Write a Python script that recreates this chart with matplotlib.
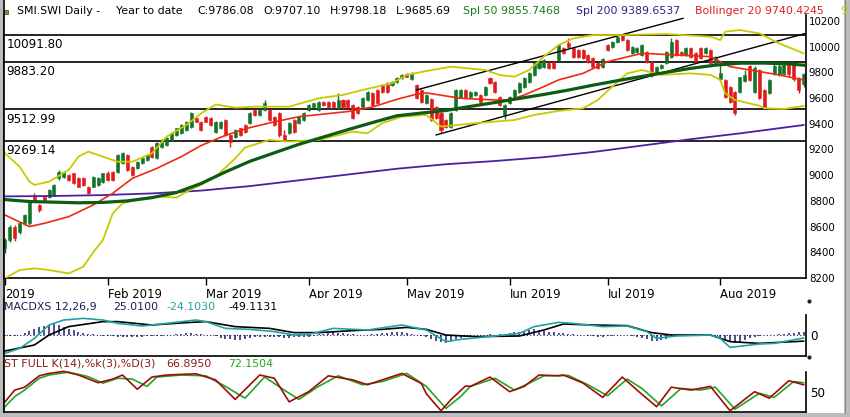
import numpy as np
import matplotlib
matplotlib.use("Agg")
import matplotlib.pyplot as plt
import matplotlib.transforms as mtransforms
from matplotlib.patches import Rectangle
from matplotlib.lines import Line2D

# ---- daily candles, 3 Jan .. 27 Aug 2019 ----
opens = [
    8431, 8496, 8600, 8560, 8625, 8625, 8833, 8768, 8833, 8833,
    8846, 8975, 8988, 9001, 9014, 8975, 8975, 8911, 8911, 8924,
    8950, 9014, 9027, 9027, 9092, 9157, 9066, 9053, 9092, 9118,
    9222, 9131, 9222, 9235, 9274, 9313, 9326, 9351, 9377, 9442,
    9416, 9455, 9442, 9338, 9364, 9429, 9313, 9300, 9364, 9390,
    9403, 9507, 9468, 9507, 9507, 9455, 9481, 9313, 9326, 9429,
    9403, 9429, 9507, 9533, 9507, 9572, 9567, 9567, 9520, 9585,
    9585, 9546, 9533, 9533, 9585, 9637, 9663, 9702, 9715, 9702,
    9728, 9754, 9787, 9745, 9700, 9660, 9560, 9590, 9533, 9481,
    9429, 9377, 9507, 9611, 9663, 9611, 9620, 9624, 9624, 9753,
    9727, 9611, 9468, 9559, 9598, 9650, 9688, 9727, 9779, 9831,
    9844, 9870, 9883, 9896, 9987, 10030, 9987, 9974, 9974, 9935,
    9909, 9870, 9844, 10012, 10000, 10038, 10090, 10051, 9948, 9961,
    9935, 9961, 9883, 9792, 9831, 9870, 9922, 10051, 9961, 9935,
    9987, 9948, 9987, 9948, 9974, 9870, 9745, 9740, 9688, 9650,
    9650, 9735, 9850, 9650, 9818, 9663, 9637, 9790, 9780, 9790,
    9857, 9870, 9753, 9707.10]
highs = [
    8509, 8612, 8612, 8635, 8700, 8807, 8859, 8775, 8840, 8890,
    8930, 9040, 9035, 9010, 9020, 8985, 8985, 8915, 8995, 8985,
    9020, 9030, 9035, 9165, 9180, 9165, 9070, 9110, 9140, 9165,
    9230, 9255, 9280, 9295, 9335, 9370, 9398, 9425, 9490, 9450,
    9425, 9462, 9450, 9422, 9422, 9435, 9320, 9358, 9370, 9398,
    9488, 9515, 9515, 9585, 9515, 9462, 9490, 9352, 9410, 9435,
    9462, 9488, 9552, 9565, 9578, 9580, 9575, 9575, 9637, 9592,
    9592, 9552, 9540, 9605, 9657, 9645, 9670, 9710, 9722, 9735,
    9760, 9787, 9795, 9800, 9708, 9668, 9628, 9598, 9540, 9488,
    9436, 9488, 9670, 9670, 9670, 9657, 9657, 9632, 9695, 9760,
    9734, 9618, 9553, 9618, 9670, 9721, 9760, 9799, 9877, 9882,
    9903, 9877, 9890, 10019, 9994, 10064, 9994, 9981, 9981, 9942,
    9916, 9877, 9908, 10019, 10045, 10084, 10100, 10058, 10007, 9994,
    10019, 9968, 9890, 9847, 9864, 9968, 10064, 10058, 9968, 9994,
    9994, 9955, 9994, 9994, 9981, 9929, 9870, 9747, 9695, 9657,
    9767, 9818, 9860, 9850, 9825, 9670, 9748, 9862, 9864, 9870,
    9864, 9883, 9760, 9798.18]
lows = [
    8392, 8480, 8490, 8545, 8610, 8615, 8800, 8715, 8800, 8825,
    8840, 8965, 8980, 8955, 8930, 8905, 8915, 8850, 8905, 8915,
    8940, 8955, 8955, 9020, 9085, 9030, 8990, 9045, 9085, 9110,
    9135, 9125, 9215, 9230, 9268, 9305, 9320, 9345, 9370, 9410,
    9345, 9410, 9385, 9330, 9358, 9305, 9222, 9292, 9305, 9330,
    9395, 9460, 9460, 9500, 9422, 9382, 9300, 9262, 9318, 9330,
    9395, 9422, 9500, 9525, 9500, 9538, 9520, 9525, 9512, 9525,
    9525, 9435, 9475, 9525, 9578, 9538, 9552, 9642, 9642, 9695,
    9720, 9746, 9760, 9738, 9590, 9562, 9552, 9422, 9435, 9325,
    9370, 9370, 9500, 9604, 9604, 9604, 9612, 9565, 9617, 9707,
    9643, 9539, 9440, 9552, 9591, 9643, 9681, 9720, 9772, 9824,
    9837, 9824, 9824, 9889, 9941, 9993, 9915, 9915, 9902, 9876,
    9837, 9824, 9837, 9967, 9993, 10031, 10044, 9967, 9941, 9954,
    9928, 9876, 9766, 9785, 9824, 9863, 9915, 9928, 9928, 9928,
    9915, 9876, 9902, 9941, 9863, 9863, 9735, 9604, 9565, 9467,
    9643, 9728, 9733, 9640, 9591, 9520, 9630, 9783, 9773, 9783,
    9773, 9733, 9640, 9685.69]
closes = [
    8496, 8595, 8510, 8625, 8690, 8794, 8807, 8729, 8807, 8885,
    8924, 9027, 9027, 8962, 8937, 8911, 8924, 8859, 8988, 8975,
    9014, 8962, 8962, 9157, 9170, 9040, 9001, 9105, 9131, 9157,
    9144, 9248, 9274, 9287, 9326, 9364, 9390, 9416, 9481, 9416,
    9351, 9416, 9390, 9416, 9416, 9313, 9261, 9352, 9313, 9338,
    9481, 9468, 9507, 9558, 9430, 9390, 9313, 9274, 9403, 9338,
    9455, 9481, 9546, 9559, 9572, 9546, 9528, 9533, 9585, 9533,
    9533, 9443, 9481, 9598, 9650, 9546, 9559, 9650, 9650, 9728,
    9754, 9780, 9767, 9790, 9600, 9570, 9620, 9430, 9442, 9351,
    9377, 9481, 9663, 9663, 9611, 9650, 9650, 9572, 9688, 9714,
    9650, 9546, 9546, 9611, 9663, 9714, 9753, 9792, 9870, 9875,
    9896, 9831, 9831, 10012, 9948, 10000, 9922, 9922, 9909, 9883,
    9844, 9831, 9901, 9974, 10038, 10077, 10051, 9974, 10000, 9987,
    10012, 9883, 9779, 9840, 9857, 9961, 10038, 9935, 9935, 9987,
    9922, 9883, 9909, 9987, 9870, 9922, 9795, 9611, 9572, 9481,
    9760, 9780, 9740, 9830, 9600, 9530, 9741, 9850, 9850, 9857,
    9785, 9745, 9663, 9786.08]

month_pos = [0, 21, 41, 62, 82, 103, 123, 146]
month_labels = ['2019', 'Feb 2019', 'Mar 2019', 'Apr 2019', 'May 2019',
                'Jun 2019', 'Jul 2019', 'Aug 2019']

# ---- overlays (values read at sample days) ----
sma200_days = [0, 10, 20, 30, 40, 50, 60, 70, 80, 90, 100, 110, 120, 130, 140, 150, 163]
sma200_vals = [8835, 8838, 8845, 8858, 8880, 8915, 8960, 9005, 9050, 9085, 9110,
               9140, 9180, 9230, 9280, 9325, 9390]

sma50_days = [0, 5, 10, 15, 20, 25, 30, 35, 40, 45, 50, 55, 60, 65, 70, 75, 80, 85,
              90, 95, 100, 105, 110, 115, 120, 125, 130, 135, 140, 145, 150, 155, 160, 163]
sma50_vals = [8810, 8795, 8790, 8785, 8788, 8800, 8825, 8865, 8935, 9025, 9108, 9174,
              9240, 9297, 9354, 9409, 9462, 9483, 9503, 9535, 9565, 9597, 9628, 9662,
              9700, 9735, 9768, 9800, 9831, 9856, 9871, 9872, 9865, 9856]

boll_mid_days = [0, 5, 8, 13, 18, 22, 26, 31, 36, 40, 45, 50, 55, 60, 65, 70, 75, 80,
                 84, 86, 93, 100, 103, 106, 110, 113, 118, 123, 130, 137, 144, 148,
                 154, 158, 163]
boll_mid_vals = [8690, 8600, 8625, 8677, 8768, 8859, 8975, 9053, 9144, 9230, 9310,
                 9370, 9415, 9455, 9475, 9495, 9530, 9590, 9630, 9640, 9598, 9585,
                 9585, 9624, 9689, 9741, 9792, 9883, 9948, 9935, 9922, 9844, 9806,
                 9780, 9740]

boll_up_days = [0, 3, 5, 6, 9, 13, 15, 17, 20, 23, 26, 30, 33, 37, 40, 43, 47, 51, 58,
                64, 69, 73, 79, 82, 86, 91, 98, 101, 104, 107, 110, 113, 116, 120, 126,
                135, 144, 146, 147, 150, 154, 158, 163]
boll_up_vals = [9170, 9066, 8950, 8924, 8950, 9040, 9144, 9183, 9144, 9105, 9105, 9170,
                9300, 9390, 9480, 9550, 9525, 9533, 9533, 9598, 9624, 9663, 9715, 9780,
                9810, 9844, 9818, 9779, 9766, 9818, 9922, 10012, 10064, 10090, 10090,
                10098, 10077, 10051, 10116, 10129, 10103, 10025, 9948]

boll_lo_days = [0, 3, 6, 9, 13, 16, 18, 20, 22, 24, 28, 32, 35, 37, 40, 43, 47, 49, 54,
                58, 64, 71, 74, 77, 81, 86, 89, 96, 101, 104, 108, 113, 118, 121, 124,
                127, 130, 134, 140, 144, 146, 147, 149, 154, 155, 159, 163]
boll_lo_vals = [8198, 8262, 8275, 8262, 8236, 8288, 8400, 8496, 8703, 8781, 8820, 8833,
                8825, 8870, 8924, 8988, 9130, 9215, 9274, 9261, 9274, 9339, 9326, 9404,
                9455, 9468, 9378, 9404, 9420, 9429, 9468, 9500, 9520, 9585, 9690, 9792,
                9818, 9780, 9792, 9780, 9741, 9637, 9585, 9540, 9520, 9515, 9538]

levels = [10091.80, 9883.20, 9512.99, 9269.14]
chan_upper = ([84, 138.4], [9663, 10220])
chan_lower = ([88, 163.5], [9313, 10104])

# ---- MACD panel ----
macd_days = [0, 3, 6, 9, 12, 16, 20, 23, 28, 33, 39, 41, 45, 50, 55, 59, 62, 67, 74, 81,
             86, 90, 93, 100, 105, 108, 113, 116, 122, 127, 131, 133, 137, 144, 146,
             148, 154, 157, 163]
macd_vals = [-147, -107, -27, 80, 120, 133, 120, 93, 72, 93, 120, 107, 53, 45, 27, 0, 5,
             53, 40, 80, 40, -53, -35, -8, 13, 67, 101, 93, 67, 72, 27, -27, -8, 0, -27,
             -99, -72, -67, -24]
signal_days = [0, 6, 9, 13, 20, 23, 30, 37, 41, 47, 54, 59, 64, 71, 77, 82, 86, 90, 96,
               105, 110, 114, 120, 127, 132, 136, 144, 148, 154, 163]
signal_vals = [-128, -80, 0, 67, 107, 107, 80, 99, 107, 67, 53, 19, 19, 35, 45, 61, 45,
               0, -13, -8, 40, 88, 80, 75, 19, 0, 0, -53, -67, -49]
hist_vals = [
    -10, -8, -4, 0,
    16, 32, 48, 64, 72, 80, 85, 80, 64, 48, 40, 24, 16, 8, 8, 0,
    -5, -8, -10, -12, -14, -14, -13, -12, -12, -10, -8,
    -6, -4, -2, 2, 6, 10, 14, 16, 12, 6, 2, 0,
    -10, -20, -28, -35, -40, -38, -32, -25, -18, -15,
    -16, -18, -18, -19, -20, -20, -19, -18, -16, -12,
    -5, 5, 12, 18, 23, 20, 15, 10, 6, 2,
    0, 2, 6, 10, 15, 20, 24, 25, 22, 15,
    8, 2, -5, -15, -30, -45, -55, -60, -50, -35,
    -25, -15, -8, -3, 2, 4, 5, 4, 5, 10,
    16, 21, 28, 35, 42, 45, 42, 35, 28, 22,
    18, 14, 10, 6, 3, 0, -4, -8, -12, -13,
    -10, -6, -3, -3, -3, -5, -15, -25, -35, -45,
    -50, -42, -30, -18, -8, -4, -2, 0, 0, 0,
    0, 0, -5, -20, -40, -55, -62, -55, -40, -25,
    -12, -5, -3, -2, 0, 5, 10, 15, 18, 21, 25]

# ---- stochastic panel ----
stk_days = [0, 2, 4, 7, 9, 12, 15, 19, 22, 24, 27, 30, 33, 39, 43, 47, 52, 55, 58, 62,
            66, 71, 74, 77, 81, 85, 86, 89, 91, 94, 95, 99, 103, 106, 109, 113, 114, 118,
            122, 126, 129, 133, 136, 140, 144, 148, 153, 156, 160, 163]
stk_vals = [25, 54, 61, 89, 95, 100, 91, 72, 81, 91, 56, 86, 91, 94, 79, 31, 91, 83, 25,
            50, 89, 79, 67, 79, 95, 70, 45, 3, 30, 64, 63, 86, 50, 63, 91, 89, 91, 71, 36,
            86, 54, 13, 61, 54, 63, 3, 50, 34, 77, 67]
std_days = [0, 2, 4, 7, 9, 13, 17, 20, 23, 26, 29, 31, 36, 41, 45, 49, 53, 57, 60, 64,
            68, 73, 77, 82, 86, 90, 93, 95, 100, 104, 107, 110, 115, 119, 123, 127, 130,
            134, 138, 142, 145, 149, 154, 157, 161, 163]
std_vals = [13, 38, 54, 83, 91, 98, 87, 71, 83, 81, 63, 86, 91, 89, 63, 34, 86, 54, 31,
            63, 89, 67, 75, 95, 63, 9, 38, 63, 83, 54, 71, 89, 90, 67, 40, 81, 58, 15, 58,
            54, 61, 7, 46, 36, 75, 72]

W, H = 850, 417
GREEN_C = '#117428'
RED_C = '#e01b1b'


def box(l, t, r, b):
    return [l / W, 1 - b / H, (r - l) / W, (b - t) / H]


def ftxt(x, y, s, color='black', size=7.9, **kw):
    fig.text(x / W, 1 - y / H, s, color=color, fontsize=size, va='center', ha='left', **kw)


fig = plt.figure(figsize=(W / 100, H / 100), dpi=100)
fig.patch.set_facecolor('white')

ax = fig.add_axes(box(3, 15, 806, 278))
am = fig.add_axes(box(3, 298, 806, 356), sharex=ax)
ast = fig.add_axes(box(3, 362, 806, 412), sharex=ax)

days = np.arange(len(closes))
o = np.array(opens)
c = np.array(closes)
hi = np.array(highs)
lo = np.array(lows)
cols = np.where(c >= o, GREEN_C, RED_C)

# candles
ax.vlines(days, lo, hi, colors=cols, lw=1, zorder=2)
ax.bar(days, np.abs(c - o), bottom=np.minimum(o, c), width=0.62, color=cols,
       edgecolor=cols, linewidth=0.4, zorder=2)

for lv in levels:
    ax.axhline(lv, color='black', lw=1.2, zorder=1)
trans = mtransforms.blended_transform_factory(ax.transAxes, ax.transData)
for lv in levels:
    ax.annotate('%.2f' % lv, xy=(0.004, lv), xycoords=trans, xytext=(0, -2.5),
                textcoords='offset points', va='top', ha='left', fontsize=8.6)

ax.plot(*chan_upper, color='black', lw=1, zorder=3)
ax.plot(*chan_lower, color='black', lw=1, zorder=3)

ax.plot(sma200_days, sma200_vals, color='#4b1fa0', lw=1.3, zorder=3)
ax.plot(boll_up_days, boll_up_vals, color='#c9c900', lw=1.3, zorder=3)
ax.plot(boll_lo_days, boll_lo_vals, color='#c9c900', lw=1.3, zorder=3)
ax.plot(boll_mid_days, boll_mid_vals, color='#f02a10', lw=1.2, zorder=3)
ax.plot(sma50_days, sma50_vals, color='#0c5c14', lw=2.3, zorder=4)

ax.set_xlim(-0.4, 163.5)
ax.set_ylim(8200, 10246)
ax.yaxis.tick_right()
ax.set_yticks(range(8200, 10201, 200))
ax.tick_params(axis='y', length=0, pad=2, labelsize=7.4)
ax.spines['top'].set_visible(False)
for s in ['left', 'right', 'bottom']:
    ax.spines[s].set_linewidth(1.2)
ax.set_xticks(month_pos)
ax.set_xticklabels(month_labels)
ax.tick_params(axis='x', direction='out', length=5, width=1, pad=2, labelsize=8.4)
for t in ax.get_xticklabels():
    t.set_ha('left')

# MACD
am.vlines(days, 0, hist_vals, colors='#1c1c6c', lw=1.1, zorder=2)
am.axhline(0, color='#1c1c6c', lw=0.8, ls=(0, (1, 2)), zorder=1)
am.plot(signal_days, signal_vals, color='black', lw=1.2, zorder=3)
am.plot(macd_days, macd_vals, color='#1fa3a3', lw=1.2, zorder=3)
am.set_ylim(-168, 296)
am.spines['top'].set_visible(False)
am.spines['right'].set_bounds(-168, 160)
am.yaxis.tick_right()
am.set_yticks([0])
am.tick_params(axis='y', length=0, pad=3, labelsize=8.6)
am.tick_params(axis='x', bottom=False, labelbottom=False)
for s in ['left', 'right', 'bottom']:
    am.spines[s].set_linewidth(1.2)

# stochastic
ast.plot(std_days, std_vals, color='#22a522', lw=1.2, zorder=3)
ast.plot(stk_days, stk_vals, color='#a00c0c', lw=1.2, zorder=3)
ast.set_ylim(0, 123)
ast.spines['top'].set_visible(False)
ast.spines['right'].set_bounds(0, 99)
ast.yaxis.tick_right()
ast.set_yticks([50])
ast.tick_params(axis='y', length=0, pad=3, labelsize=8.6)
ast.tick_params(axis='x', bottom=False, labelbottom=False)
for s in ['left', 'right', 'bottom']:
    ast.spines[s].set_linewidth(1.2)

# header texts
ftxt(17, 11, 'SMI.SWI Daily -')
ftxt(116, 11, 'Year to date')
ftxt(197, 11, 'C:9786.08')
ftxt(263, 11, 'O:9707.10')
ftxt(330, 11, 'H:9798.18')
ftxt(396, 11, 'L:9685.69')
ftxt(463, 11, 'Spl 50 9855.7468', color='#1a7a1a')
ftxt(576, 11, 'Spl 200 9389.6537', color='#3a1a8a')
ftxt(695, 11, 'Bollinger 20 9740.4245', color='#e02020')
ftxt(840, 11, '9', color='#c9c900')
fig.patches.append(Rectangle((4 / W, 1 - 14 / H), 4 / W, 4 / H, transform=fig.transFigure,
                             facecolor='#8a8a3a', edgecolor='#333333', lw=0.5))

ftxt(4, 307, 'MACDXS 12,26,9', color='#1c1c5c')
ftxt(113, 307, '25.0100', color='#1c1c5c')
ftxt(166, 307, '-24.1030', color='#1fa3a3')
ftxt(228, 307, '-49.1131', color='black')

ftxt(4, 364, 'ST FULL K(14),%k(3),%D(3)', color='#8b1a1a')
ftxt(166, 364, '66.8950', color='#8b1a1a')
ftxt(228, 364, '72.1504', color='#22a522')

# little axis marks right of the MACD panel
for py in (301, 357):
    fig.lines.append(Line2D([808.5 / W], [1 - py / H], transform=fig.transFigure,
                            marker='o', markersize=2, color='#222222', lw=0))

# outer frame
grey = '#bcbcbc'
fig.patches.append(Rectangle((0, 0), 3 / W, 1, transform=fig.transFigure,
                             facecolor=grey, edgecolor='none'))
fig.patches.append(Rectangle((0, 0), 1, 4 / H, transform=fig.transFigure,
                             facecolor=grey, edgecolor='none'))
fig.patches.append(Rectangle((844 / W, 0), 6 / W, 1, transform=fig.transFigure,
                             facecolor=grey, edgecolor='none'))
fig.lines.append(Line2D([844.5 / W, 844.5 / W], [4 / H, 1], transform=fig.transFigure,
                        color='#888888', lw=0.8))
fig.lines.append(Line2D([3.5 / W, 3.5 / W], [5 / H, 1], transform=fig.transFigure,
                        color='black', lw=1.2))

fig.savefig('out.png', dpi=100, facecolor='white')
